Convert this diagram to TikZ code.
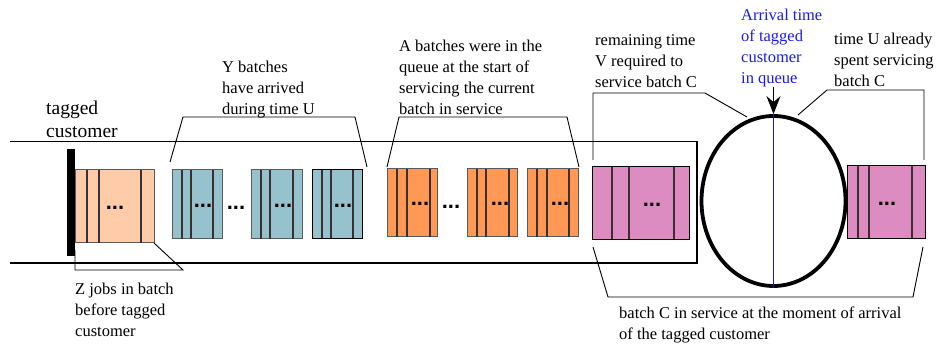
\documentclass[tikz,border=0pt]{standalone}
\usepackage{fontspec}
\setmainfont{Liberation Serif}
\newfontfamily\dotsfont{Liberation Sans}
\usetikzlibrary{shapes.geometric,arrows.meta}

\definecolor{peach}{HTML}{FFCCAA}
\definecolor{teal2}{HTML}{95C2CC}
\definecolor{orng}{HTML}{FF9955}
\definecolor{pinkc}{HTML}{DD8CC2}
\definecolor{arrblue}{HTML}{1A1AF0}
\definecolor{splitblue}{HTML}{1818B8}
\definecolor{sepline}{HTML}{3A3030}

% one batch of jobs: name, x1, x2, y1, y2, fill, separator xs, dots x
\newcommand\jobbatch[8]{%
  \node[batch, fill=#6, minimum width={#3-#2}, minimum height={#5-#4}] (#1) at ({(#2+#3)/2},{(#4+#5)/2}) {};
  \foreach \xx in {#7} \draw[sepl] (\xx,#4) -- (\xx,#5);
  \node[dotsmark] at (#8,{(#4+#5)/2+3}) {...};
}

\begin{document}
\begin{tikzpicture}[x=1pt,y=-1pt,
  batch/.style={draw=black!65, line width=1pt, inner sep=0pt, outer sep=0pt},
  sepl/.style={draw=sepline, line width=1.4pt},
  dotsmark/.style={font=\dotsfont\bfseries\fontsize{22}{22}\selectfont, inner sep=0pt, anchor=base},
  lbl/.style={font=\fontsize{16.5}{21}\selectfont, align=left, anchor=north west, inner sep=0pt},
  bracket/.style={line width=0.9pt},
  queue/.style={line width=1.1pt}]

\useasboundingbox (0,0) rectangle (938,347);

% queue walls
\draw[queue] (10,141.5) -- (697,141.5) -- (697,263) -- (10,263);

% tagged customer marker
\node[fill=black, inner sep=0pt, minimum width=8, minimum height=107] (tag) at (71,202.5) {};
\node[lbl, font=\fontsize{19.5}{23}\selectfont] (tagtxt) at (46,100.5) {tagged\\customer};

% batches waiting in the queue
\jobbatch{zb}{75}{154}{170}{243}{peach}{87,99,141}{115}
\jobbatch{ya}{172}{222}{170}{239}{teal2}{182,191,213}{203}
\jobbatch{yb}{251}{302}{170}{239}{teal2}{261,270,293}{283}
\jobbatch{yc}{312}{362}{170}{239}{teal2}{322,331,353}{343}
\draw[black, line width=1pt] (yc.north west) rectangle (yc.south east);
\node[dotsmark] (ydots) at (236,210) {...};

\jobbatch{aa}{387}{437}{169}{237}{orng}{397,407,430}{420}
\jobbatch{ab}{467}{517}{169}{237}{orng}{477,486,509}{500}
\jobbatch{ac}{527}{578}{169}{237}{orng}{537,547,569}{560}
\node[dotsmark] (adots) at (451,209) {...};

% batch C, split by the arrival instant
\jobbatch{cv}{592}{689}{167}{240}{pinkc}{612,629,674}{652}
\jobbatch{cu}{847}{925}{166}{239}{pinkc}{858,869,912}{887}
\draw[black, line width=1pt] (cv.north west) rectangle (cv.south east);
\draw[black, line width=1pt] (cu.north west) rectangle (cu.south east);

% server
\node[draw, ellipse, line width=3.8pt, minimum width=144, minimum height=170, inner sep=0pt] (srv) at (773.5,201) {};
\draw[splitblue, line width=1.1pt] (srv.north) -- (srv.south);
\node[lbl, text=arrblue] (arr) at (741,9) {Arrival time\\of tagged\\customer\\in queue};
\draw[line width=1.2pt, -{Stealth[length=18pt,width=14pt,inset=6pt]}] (arr.south -| srv.north) -- (srv.north);

% brackets and their labels
\draw[bracket] (75,250) -- (75,270) -- (183,270) -- (zb.south east);
\node[lbl] (ztxt) at (75,282.5) {Z jobs in batch\\before tagged\\customer};

\draw[bracket] (170,162) -- (183,117) -- (355,117) -- (367,167);
\node[lbl] (ytxt) at (222,60.5) {Y batches\\have arrived\\during time U};

\draw[bracket] (387,167) -- (399,117) -- (567,117) -- (579,167);
\node[lbl] (atxt) at (399,40) {A batches were in the\\queue at the start of\\servicing the current\\batch in service};

\draw[bracket] (593,160) -- (593,93) -- (705,93) -- (747,117);
\node[lbl] (vtxt) at (595,34) {remaining time\\V required to\\service batch C};

\draw[bracket] (798,115) -- (827,90) -- (924,90) -- (924,160);
\node[lbl] (utxt) at (834,33) {time U already\\spent servicing\\batch C};

\draw[bracket] (593,247) -- (608,297) -- (913,297) -- (923,247);
\node[lbl] (ctxt) at (619,307) {batch C in service at the moment of arrival\\of the tagged customer};

\end{tikzpicture}
\end{document}
